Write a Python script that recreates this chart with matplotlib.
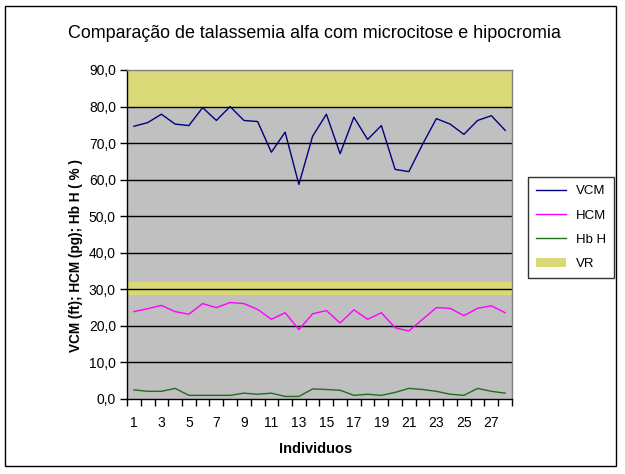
import matplotlib
matplotlib.use("Agg")
import matplotlib.pyplot as plt
from matplotlib.patches import Patch, Rectangle
from matplotlib.lines import Line2D
from matplotlib.ticker import FuncFormatter

plt.rcParams['font.family'] = ['Liberation Sans', 'DejaVu Sans']

individuos = list(range(1, 29))
vcm = [74.6, 75.6, 77.9, 75.2, 74.8, 79.7, 76.2, 80.0, 76.2, 75.9,
       67.5, 73.0, 58.7, 71.9, 77.9, 67.1, 77.1, 71.0, 74.8, 62.8,
       62.2, 69.7, 76.7, 75.2, 72.4, 76.2, 77.5, 73.5]
hcm = [23.9, 24.7, 25.6, 23.9, 23.2, 26.1, 25.0, 26.4, 26.1, 24.5,
       21.8, 23.6, 19.0, 23.3, 24.2, 20.8, 24.4, 21.8, 23.6, 19.5,
       18.6, 21.8, 25.0, 24.8, 22.8, 24.8, 25.5, 23.6]
hbh = [2.5, 2.1, 2.1, 2.9, 1.0, 1.0, 1.0, 1.0, 1.6, 1.3,
       1.6, 0.7, 0.7, 2.75, 2.6, 2.4, 1.0, 1.3, 1.0, 1.8,
       2.9, 2.6, 2.1, 1.3, 1.0, 2.9, 2.1, 1.6]
vr_bands = [(80.0, 90.0), (28.5, 32.0)]
xtick_labels = [str(i) for i in range(1, 29, 2)]

fig = plt.figure(figsize=(6.25, 4.74), dpi=100)
W, H = 625, 474
ax = fig.add_axes([127 / W, (H - 399) / H, (512 - 127) / W, (399 - 70) / H])
ax.set_facecolor('#C0C0C0')

yellow = '#D9D977'
for lo, hi in vr_bands:
    ax.axhspan(lo, hi, color=yellow, zorder=1, lw=0)
for g in range(10, 90, 10):
    ax.axhline(g, color='black', lw=1.0, zorder=2)

ax.plot(individuos, vcm, color='#000080', lw=1.0, zorder=3)
ax.plot(individuos, hcm, color='#FF00FF', lw=1.0, zorder=3)
ax.plot(individuos, hbh, color='#1F6F1F', lw=1.0, zorder=3)

ax.set_xlim(0.5, 28.5)
ax.set_ylim(0, 90)
ax.set_yticks(range(0, 91, 10))
ax.yaxis.set_major_formatter(FuncFormatter(lambda v, p: f"{v:.1f}".replace('.', ',')))
ax.tick_params(axis='y', direction='out', length=5, width=1, labelsize=10, pad=3)

bounds = [b + 0.5 for b in range(0, 29)]
ax.set_xticks(bounds)
ax.set_xticklabels([''] * len(bounds))
ax.tick_params(axis='x', which='major', direction='out', length=5, width=1)
ax.set_xticks(list(range(1, 29, 2)), minor=True)
ax.set_xticklabels(xtick_labels, minor=True)
ax.tick_params(axis='x', which='minor', length=0, labelsize=10, pad=12)

for s in ['left', 'bottom']:
    ax.spines[s].set_color('black')
    ax.spines[s].set_linewidth(1.0)
for s in ['right', 'top']:
    ax.spines[s].set_color('#808080')
    ax.spines[s].set_linewidth(1.0)

fig.text(314 / W, 1 - 33 / H, 'Comparação de talassemia alfa com microcitose e hipocromia',
         ha='center', va='center', fontsize=12.9)
fig.text(316 / W, 1 - 449 / H, 'Individuos', ha='center', va='center',
         fontsize=10.5, fontweight='bold')
fig.text(76 / W, 1 - 256 / H, 'VCM (ft); HCM (pg); Hb H ( % )', ha='center', va='center',
         rotation=90, fontsize=9.8, fontweight='bold')

handles = [Line2D([], [], color='#000080', lw=1.0),
           Line2D([], [], color='#FF00FF', lw=1.0),
           Line2D([], [], color='#1F6F1F', lw=1.0),
           Patch(facecolor=yellow, edgecolor='none')]
leg = fig.legend(handles, ['VCM', 'HCM', 'Hb H', 'VR'], loc='center',
                 bbox_to_anchor=(571 / W, 1 - 227.5 / H), fontsize=9.5,
                 frameon=True, fancybox=False, edgecolor='black', borderpad=0.6,
                 labelspacing=0.9, handlelength=2.3, handletextpad=0.7)
leg.get_frame().set_linewidth(1.0)

fig.patches.append(Rectangle((5 / W, 1 - 466 / H), 611 / W, 460 / H,
                             transform=fig.transFigure, fill=False,
                             edgecolor='black', lw=1.0))

fig.savefig('out.png', dpi=100)
